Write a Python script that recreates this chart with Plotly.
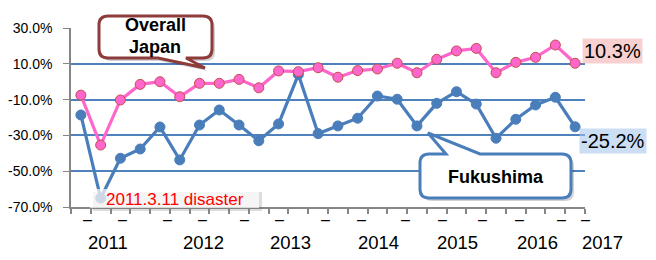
import plotly.graph_objects as go

# ---- data ----
quarters = list(range(26))
overall_japan = [-7.5, -35.4, -10.2, -1.5, 0.0, -8.4, -0.9, -0.9, 1.3, -3.4, 6.0, 5.6, 7.8,
                 2.5, 6.2, 7.1, 10.3, 5.0, 12.5, 17.2, 18.6, 5.0, 10.8, 13.6, 20.5, 10.3]
fukushima = [-18.6, -65.1, -42.8, -37.6, -25.3, -43.7, -24.2, -15.8, -24.2, -33.0, -23.6, 4.0, -29.0,
             -24.7, -20.4, -8.0, -9.8, -24.7, -12.1, -5.6, -12.5, -31.6, -21.0, -13.0, -8.7, -25.2]
year_labels = ["2011", "2012", "2013", "2014", "2015", "2016", "2017"]
year_pos = [1.37, 6.18, 10.58, 15.03, 19.07, 23.12, 26.36]
dash_pos = [0.31, 2.13, 4.36, 6.13, 8.3, 10.07, 12.35, 14.2, 16.4, 18.27, 20.34, 22.2, 24.3, 25.5]
y_ticks = [-70, -50, -30, -10, 10, 30]

W, H = 656, 260
L, R, T, B = 71, 585, 28, 207   # plot area in page pixels
N = len(quarters)

def px(x, y):
    return (x - L) / (R - L), (B - y) / (B - T)

def cat_paper(i):
    return (i + 0.5) / N

def rr_path(x0, y0, x1, y1, r, tail=None, side="bottom"):
    pts = []
    def P(cmd, *coords):
        s = cmd
        for i in range(0, len(coords), 2):
            a, b = px(coords[i], coords[i + 1])
            s += f" {a:.5f},{b:.5f}"
        pts.append(s)
    P("M", x0 + r, y0)
    if tail and side == "top":
        xa, xb, tx, ty = tail
        P("L", xa, y0); P("L", tx, ty); P("L", xb, y0)
    P("L", x1 - r, y0)
    P("Q", x1, y0, x1, y0 + r)
    P("L", x1, y1 - r)
    P("Q", x1, y1, x1 - r, y1)
    if tail and side == "bottom":
        xa, xb, tx, ty = tail
        P("L", xb, y1); P("L", tx, ty); P("L", xa, y1)
    P("L", x0 + r, y1)
    P("Q", x0, y1, x0, y1 - r)
    P("L", x0, y0 + r)
    P("Q", x0, y0, x0 + r, y0)
    return " ".join(pts) + " Z"

fig = go.Figure()
blue = "#4A7EBB"
pink = "#FF66CC"

fig.add_trace(go.Scatter(
    x=quarters, y=fukushima, mode="lines+markers",
    line=dict(color=blue, width=3.2),
    marker=dict(size=10, color=blue, line=dict(color=blue, width=1)),
    showlegend=False, hoverinfo="skip"))
fig.add_trace(go.Scatter(
    x=quarters, y=overall_japan, mode="lines+markers",
    line=dict(color=pink, width=3.2),
    marker=dict(size=10, color=pink, line=dict(color="#C0504D", width=1)),
    showlegend=False, hoverinfo="skip"))

shapes = []
shapes.append(dict(type="path", xref="paper", yref="paper",
                   path=rr_path(102, 19, 215, 61, 9, tail=(160, 188, 208, 71)),
                   fillcolor="rgba(0,0,0,0.18)", line=dict(width=0), layer="above"))
shapes.append(dict(type="path", xref="paper", yref="paper",
                   path=rr_path(423, 157, 574, 201, 9, tail=(448, 482, 431, 136), side="top"),
                   fillcolor="rgba(0,0,0,0.18)", line=dict(width=0), layer="above"))
shapes.append(dict(type="path", xref="paper", yref="paper",
                   path=rr_path(99, 16, 212, 58, 9, tail=(158, 186, 205, 68)),
                   fillcolor="white", line=dict(color="#8E3B3B", width=3), layer="above"))
shapes.append(dict(type="path", xref="paper", yref="paper",
                   path=rr_path(420, 154, 571, 198, 9, tail=(446, 480, 428, 133), side="top"),
                   fillcolor="white", line=dict(color=blue, width=3), layer="above"))
x0, y0 = px(93, 192); x1, y1 = px(262, 211)
shapes.append(dict(type="rect", xref="paper", yref="paper", x0=x0, y0=y0, x1=x1, y1=y1,
                   fillcolor="rgba(120,120,120,0.25)", line=dict(width=0), layer="above"))
x0, y0 = px(90, 189); x1, y1 = px(259, 208)
shapes.append(dict(type="rect", xref="paper", yref="paper", x0=x0, y0=y0, x1=x1, y1=y1,
                   fillcolor="rgba(255,255,255,0.7)", line=dict(width=0), layer="above"))

ann = []
def A(text, x, y, size, color="black", bold=False, bg=None, xanchor="center"):
    a, b = px(x, y)
    d = dict(text=f"<b>{text}</b>" if bold else text, x=a, y=b, xref="paper", yref="paper",
             showarrow=False, xanchor=xanchor, yanchor="middle",
             font=dict(size=size, color=color, family="Liberation Sans"))
    if bg:
        d["bgcolor"] = bg
    ann.append(d)

A("Overall", 155, 25, 18, bold=True)
A("Japan", 155, 47, 18, bold=True)
A("Fukushima", 496, 177, 18, bold=True)
A("2011.3.11 disaster", 104, 199, 17, color="#FF0000", xanchor="left")
A("10.3%", 582, 51, 20, bg="rgba(240,150,150,0.45)", xanchor="left")
A("-25.2%", 579, 141, 20, bg="rgba(160,195,235,0.55)", xanchor="left")

for p in dash_pos:
    ann.append(dict(text="–", x=cat_paper(p), y=(B - 219) / (B - T), xref="paper", yref="paper",
                    showarrow=False, xanchor="center", yanchor="middle",
                    font=dict(size=16, color="black", family="Liberation Sans")))
for p, t in zip(year_pos, year_labels):
    ann.append(dict(text=t, x=cat_paper(p), y=(B - 242) / (B - T), xref="paper", yref="paper",
                    showarrow=False, xanchor="center", yanchor="middle",
                    font=dict(size=18.5, color="black", family="Liberation Sans")))

fig.update_layout(
    width=W, height=H,
    margin=dict(l=L, r=W - R, t=T, b=H - B, autoexpand=False),
    paper_bgcolor="white", plot_bgcolor="white",
    shapes=shapes, annotations=ann, hovermode=False,
    xaxis=dict(range=[-0.5, 25.5], showgrid=False, zeroline=False, automargin=False,
               tickmode="array", tickvals=[i - 0.5 for i in range(27)], ticktext=[""] * 27,
               ticks="outside", ticklen=5, tickwidth=1.5, tickcolor="#868686",
               showline=True, linecolor="#868686", linewidth=1.5),
    yaxis=dict(range=[-70, 30], tickmode="array", tickvals=y_ticks, automargin=False,
               ticktext=[f"{v:.1f}%" for v in y_ticks],
               showgrid=True, gridcolor="#4F81BD", gridwidth=1.5, zeroline=False,
               ticks="outside", ticklen=6, tickcolor="#868686",
               showline=True, linecolor="#868686", linewidth=1.5,
               ticklabelstandoff=8,
               tickfont=dict(size=14, color="black", family="Liberation Sans")),
    font=dict(family="Liberation Sans"),
)

fig.write_html("out.html", config={"displayModeBar": False},
               post_script="document.body.style.margin='0';")
